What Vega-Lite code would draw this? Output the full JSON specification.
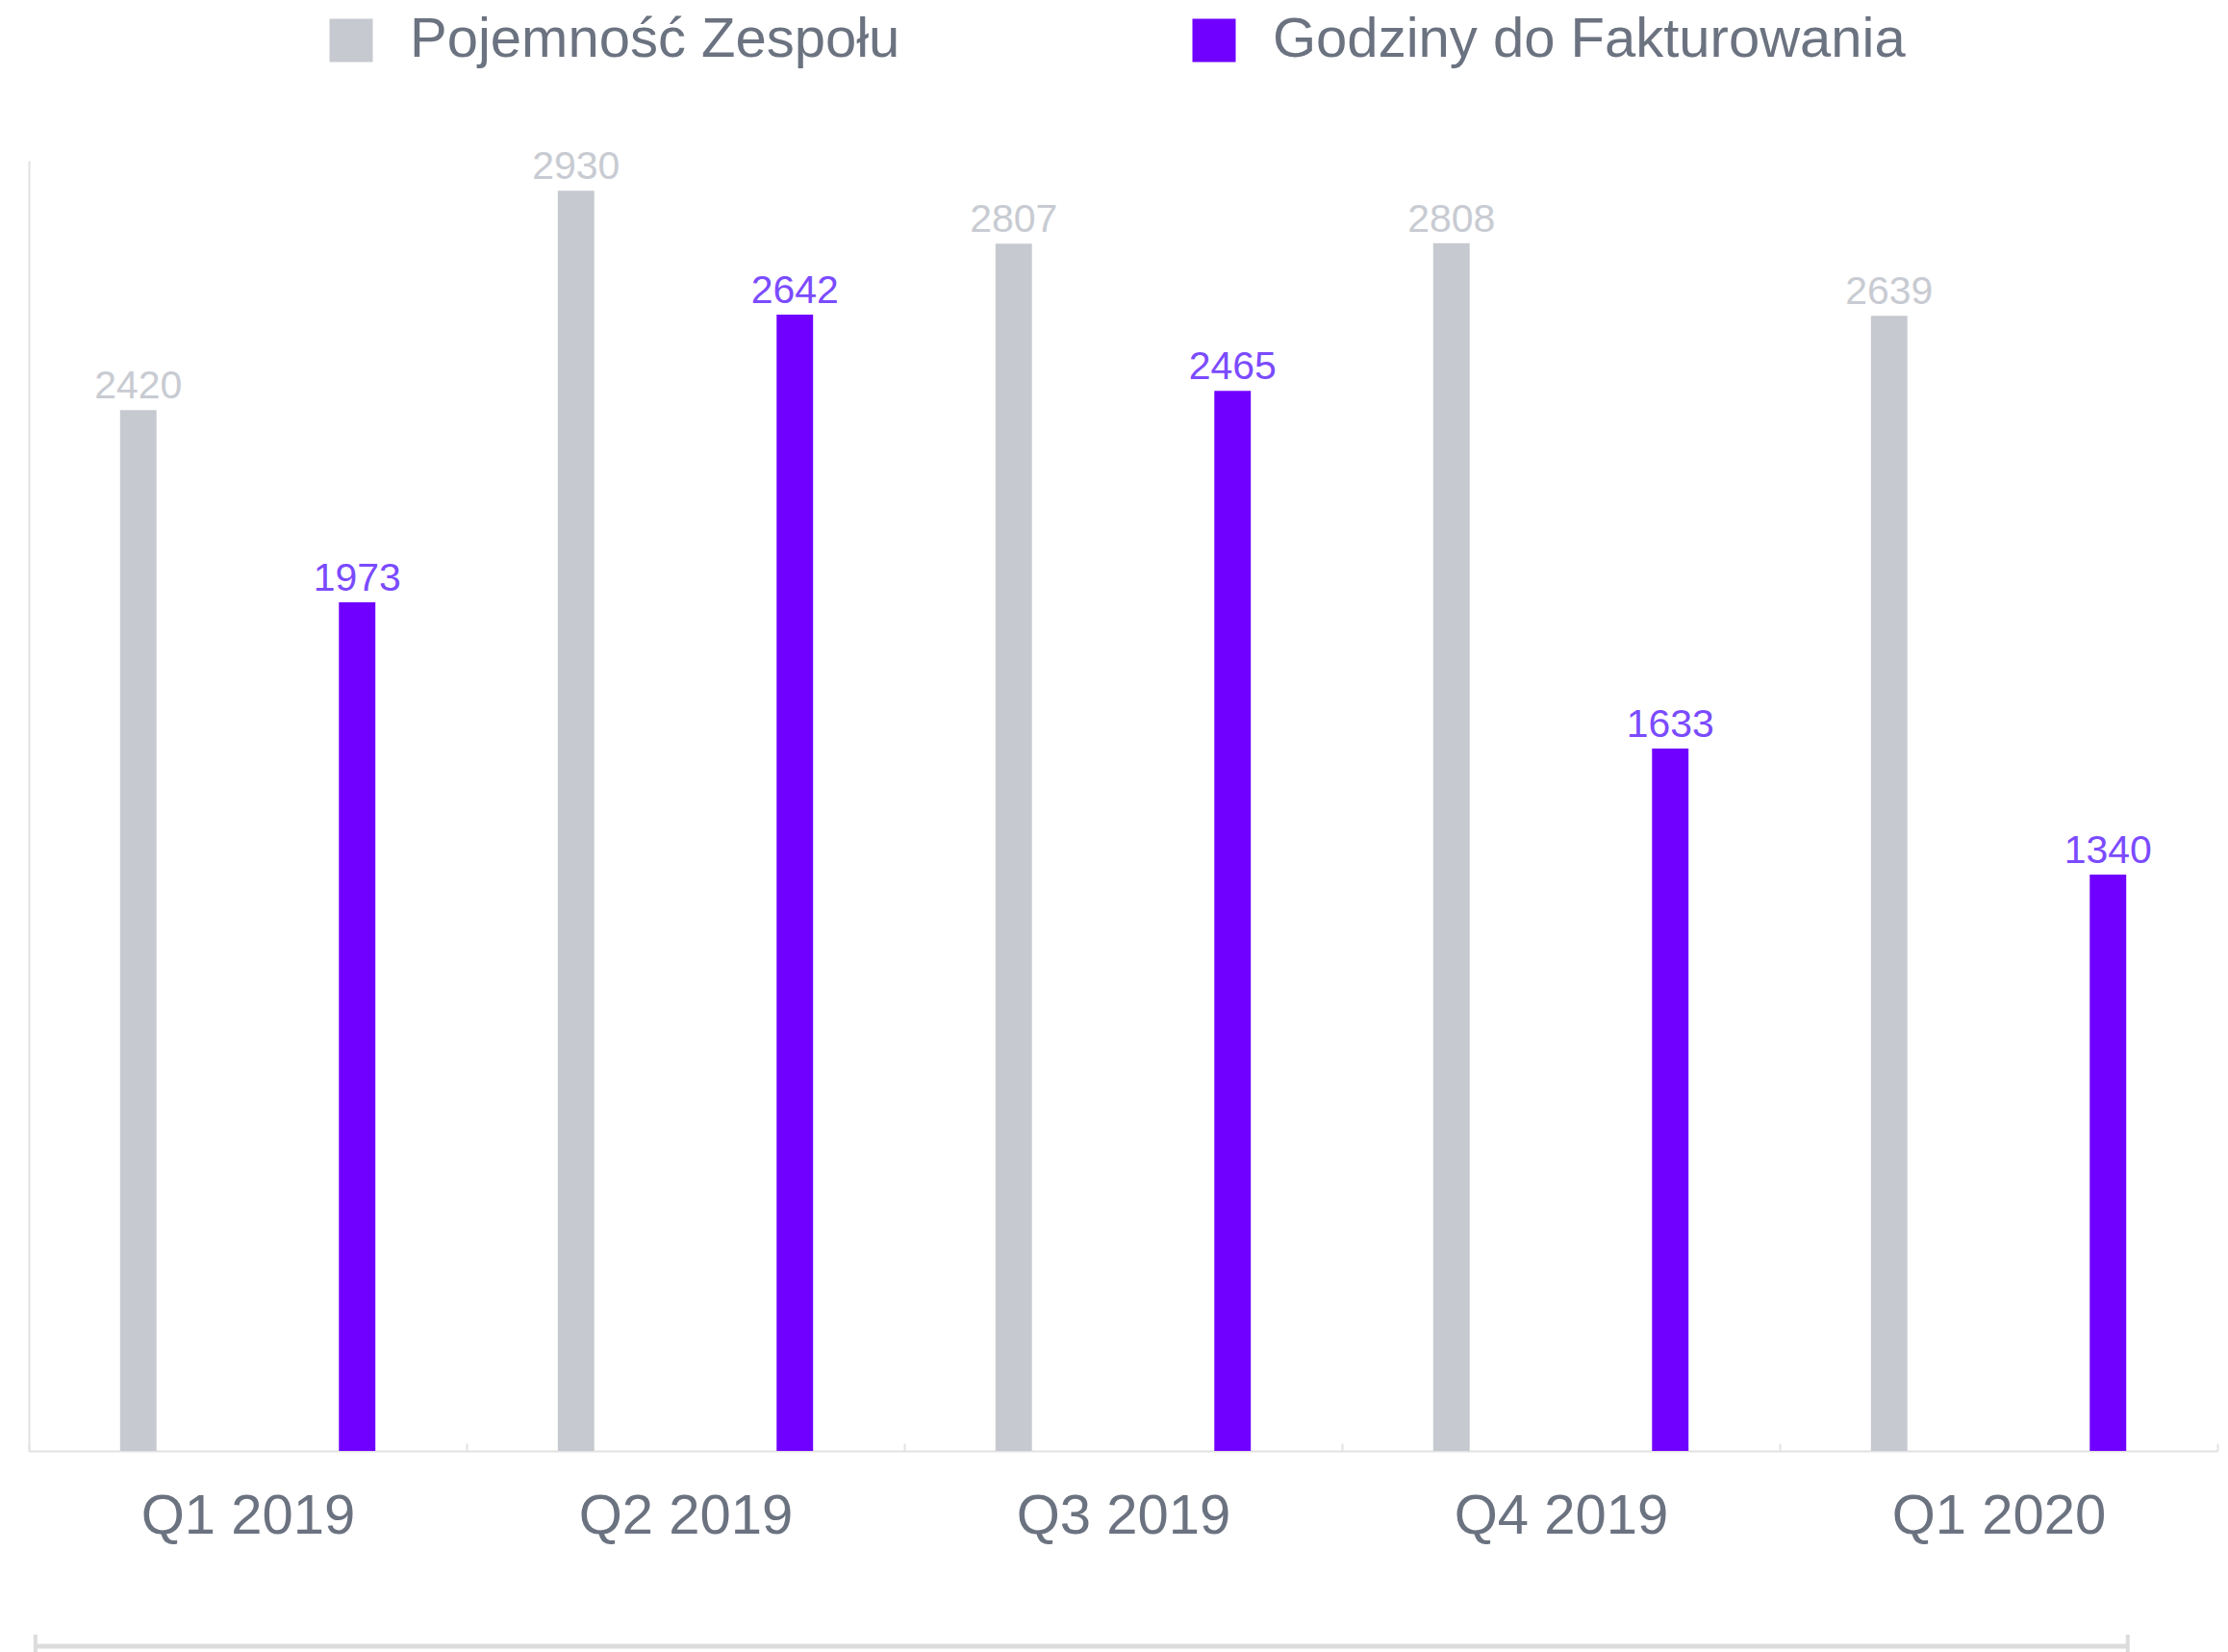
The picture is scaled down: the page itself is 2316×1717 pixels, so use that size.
{
  "$schema": "https://vega.github.io/schema/vega-lite/v6.json",
  "width": 2275,
  "height": 1341,
  "autosize": {"type": "none"},
  "padding": {"left": 30, "top": 167, "right": 11, "bottom": 209},
  "background": "white",
  "config": {"view": {"stroke": null}, "font": "Liberation Sans"},
  "resolve": {"scale": {"x": "independent"}},
  "layer": [
    {
      "data": {
        "values": [
          {"quarter": "Q1 2019", "series": "Pojemność Zespołu", "hours": 2420},
          {"quarter": "Q1 2019", "series": "Godziny do Fakturowania", "hours": 1973},
          {"quarter": "Q2 2019", "series": "Pojemność Zespołu", "hours": 2930},
          {"quarter": "Q2 2019", "series": "Godziny do Fakturowania", "hours": 2642},
          {"quarter": "Q3 2019", "series": "Pojemność Zespołu", "hours": 2807},
          {"quarter": "Q3 2019", "series": "Godziny do Fakturowania", "hours": 2465},
          {"quarter": "Q4 2019", "series": "Pojemność Zespołu", "hours": 2808},
          {"quarter": "Q4 2019", "series": "Godziny do Fakturowania", "hours": 1633},
          {"quarter": "Q1 2020", "series": "Pojemność Zespołu", "hours": 2639},
          {"quarter": "Q1 2020", "series": "Godziny do Fakturowania", "hours": 1340}
        ]
      },
      "resolve": {"scale": {"color": "independent"}},
      "encoding": {
        "x": {
          "field": "quarter",
          "type": "nominal",
          "sort": null,
          "scale": {"paddingInner": 0, "paddingOuter": 0},
          "axis": {
            "title": null,
            "labelAngle": 0,
            "labelFontSize": 58,
            "labelColor": "#6b7280",
            "labelPadding": 47,
            "labelLimit": 1000,
            "domainColor": "#e2e2e2",
            "domainWidth": 2,
            "ticks": true,
            "tickBand": "extent",
            "tickSize": -8,
            "tickColor": "#e2e2e2",
            "tickWidth": 2
          }
        },
        "xOffset": {
          "field": "series",
          "type": "nominal",
          "sort": ["Pojemność Zespołu", "Godziny do Fakturowania"],
          "scale": {"paddingInner": 0.8333, "paddingOuter": 0.4167}
        },
        "y": {
          "field": "hours",
          "type": "quantitative",
          "scale": {"domain": [0, 3000], "nice": false},
          "axis": {
            "title": null,
            "labels": false,
            "ticks": false,
            "grid": false,
            "domainColor": "#e2e2e2",
            "domainWidth": 2
          }
        }
      },
      "layer": [
        {
          "mark": {"type": "bar"},
          "encoding": {
            "color": {
              "field": "series",
              "type": "nominal",
              "scale": {
                "domain": ["Pojemność Zespołu", "Godziny do Fakturowania"],
                "range": ["#c6c9d0", "#7000ff"]
              },
              "legend": {
                "title": null,
                "orient": "none",
                "direction": "horizontal",
                "legendX": 306,
                "legendY": -154,
                "symbolType": "square",
                "symbolSize": 2025,
                "symbolStrokeWidth": 0,
                "labelFontSize": 58,
                "labelColor": "#6b7280",
                "labelOffset": 32,
                "labelLimit": 1000,
                "columnPadding": 297
              }
            }
          }
        },
        {
          "mark": {"type": "text", "baseline": "alphabetic", "dy": -12, "fontSize": 41},
          "encoding": {
            "text": {"field": "hours", "type": "quantitative", "format": "d"},
            "color": {
              "field": "series",
              "type": "nominal",
              "scale": {
                "domain": ["Pojemność Zespołu", "Godziny do Fakturowania"],
                "range": ["#c8cbd2", "#7b4bff"]
              },
              "legend": null
            }
          }
        }
      ]
    },
    {
      "data": {"values": [{"from": 0.003, "to": 0.959}]},
      "encoding": {
        "x": {"field": "from", "type": "quantitative", "scale": {"domain": [0, 1], "nice": false, "zero": false}, "axis": null}
      },
      "layer": [
        {
          "mark": {"type": "rule", "color": "#dcdcdc", "strokeWidth": 5},
          "encoding": {
            "x2": {"field": "to"},
            "y": {"datum": -454, "type": "quantitative"}
          }
        },
        {
          "mark": {"type": "rule", "color": "#dcdcdc", "strokeWidth": 4},
          "encoding": {
            "y": {"datum": -427, "type": "quantitative"},
            "y2": {"datum": -481}
          }
        },
        {
          "mark": {"type": "rule", "color": "#dcdcdc", "strokeWidth": 4},
          "encoding": {
            "x": {"field": "to", "type": "quantitative", "scale": {"domain": [0, 1], "nice": false, "zero": false}, "axis": null},
            "y": {"datum": -427, "type": "quantitative"},
            "y2": {"datum": -481}
          }
        }
      ]
    }
  ]
}
